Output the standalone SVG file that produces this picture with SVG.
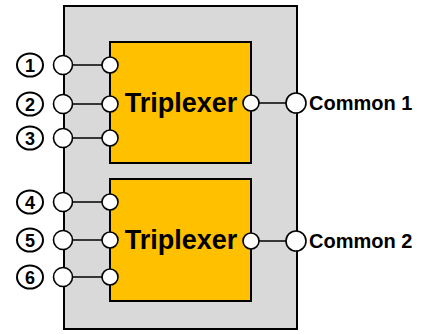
<svg xmlns="http://www.w3.org/2000/svg" width="427" height="334" viewBox="0 0 427 334">
<style>
.box{stroke:#000;stroke-width:2}
.port{fill:#fff;stroke:#000;stroke-width:1.6}
.wire{stroke:#000;stroke-width:1.6;fill:none}
.num{fill:#fff;stroke:#000;stroke-width:2}
.numt{font-family:"Liberation Sans",Arial,sans-serif;font-weight:bold;font-size:18px;text-anchor:middle}
.tt{font-family:"Liberation Sans",Arial,sans-serif;font-weight:bold;font-size:27px;text-anchor:middle}
.ct{font-family:"Liberation Sans",Arial,sans-serif;font-weight:bold;font-size:20px}
</style>
<g id="housing">
<rect class="box" x="64" y="6" width="233" height="323" fill="#D9D9D9"/>
</g>
<g id="triplexer1">
<rect class="box" x="110" y="42" width="141" height="121" fill="#FFC000"/>
<text class="tt" x="181" y="112">Triplexer</text>
</g>
<g id="triplexer2">
<rect class="box" x="110" y="179" width="141" height="122" fill="#FFC000"/>
<text class="tt" x="181" y="249">Triplexer</text>
</g>
<g id="connectors">
<line class="wire" x1="63" y1="65" x2="110" y2="65"/>
<line class="wire" x1="63" y1="104" x2="110" y2="104"/>
<line class="wire" x1="63" y1="138" x2="110" y2="138"/>
<line class="wire" x1="63" y1="202" x2="110" y2="202"/>
<line class="wire" x1="63" y1="240" x2="110" y2="240"/>
<line class="wire" x1="63" y1="277" x2="110" y2="277"/>
<line class="wire" x1="251" y1="103" x2="296" y2="103"/>
<line class="wire" x1="251" y1="241" x2="296" y2="241"/>
</g>
<g id="ports">
<circle class="port" cx="63" cy="65" r="9.5"/>
<circle class="port" cx="63" cy="104" r="9.5"/>
<circle class="port" cx="63" cy="138" r="9.5"/>
<circle class="port" cx="63" cy="202" r="9.5"/>
<circle class="port" cx="63" cy="240" r="9.5"/>
<circle class="port" cx="63" cy="277" r="9.5"/>
<circle class="port" cx="110" cy="65" r="8"/>
<circle class="port" cx="110" cy="104" r="8"/>
<circle class="port" cx="110" cy="138" r="8"/>
<circle class="port" cx="110" cy="202" r="8"/>
<circle class="port" cx="110" cy="240" r="8"/>
<circle class="port" cx="110" cy="277" r="8"/>
<circle class="port" cx="251" cy="103" r="8"/>
<circle class="port" cx="251" cy="241" r="8"/>
<circle class="port" cx="296" cy="103" r="10"/>
<circle class="port" cx="296" cy="241" r="10"/>
</g>
<g id="labels">
<ellipse class="num" cx="30" cy="65" rx="13" ry="11.5"/>
<text class="numt" x="30" y="71.5">1</text>
<ellipse class="num" cx="30" cy="104" rx="13" ry="11.5"/>
<text class="numt" x="30" y="110.5">2</text>
<ellipse class="num" cx="30" cy="138" rx="13" ry="11.5"/>
<text class="numt" x="30" y="144.5">3</text>
<ellipse class="num" cx="30" cy="202" rx="13" ry="11.5"/>
<text class="numt" x="30" y="208.5">4</text>
<ellipse class="num" cx="30" cy="240" rx="13" ry="11.5"/>
<text class="numt" x="30" y="246.5">5</text>
<ellipse class="num" cx="30" cy="277" rx="13" ry="11.5"/>
<text class="numt" x="30" y="283.5">6</text>
<text class="ct" x="309" y="110">Common 1</text>
<text class="ct" x="309" y="248">Common 2</text>
</g>
</svg>
